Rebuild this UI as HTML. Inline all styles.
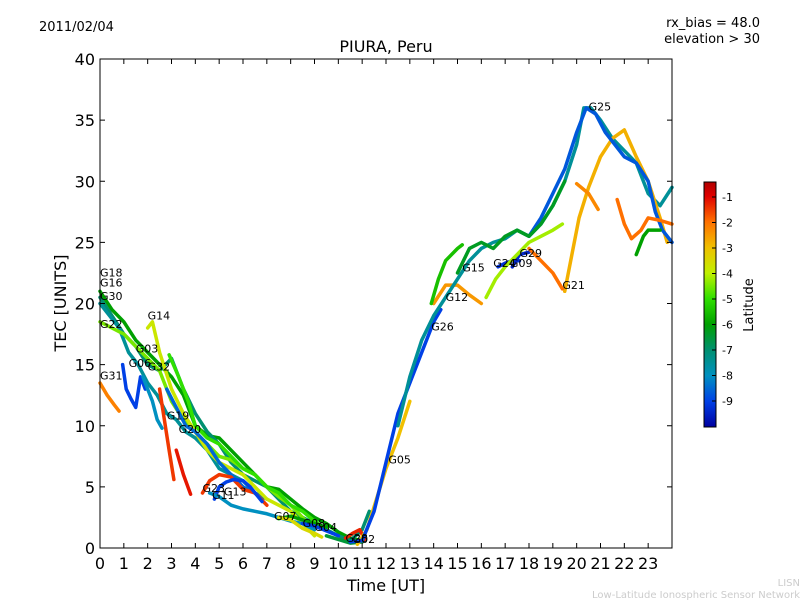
<!DOCTYPE html>
<html><head><meta charset="utf-8"><style>
body{margin:0;background:#fff;font-family:"Liberation Sans","DejaVu Sans",sans-serif}
svg text{font-family:"DejaVu Sans","Liberation Sans",sans-serif}
</style></head><body>
<svg id="chart" width="800" height="600" xmlns="http://www.w3.org/2000/svg">
<rect width="800" height="600" fill="#fff"/>
<text x="39" y="31" font-size="13">2011/02/04</text>
<text x="760" y="27" font-size="13" text-anchor="end">rx_bias = 48.0</text>
<text x="760" y="43" font-size="13" text-anchor="end">elevation &gt; 30</text>
<text x="386" y="52" font-size="16" text-anchor="middle">PIURA, Peru</text>
<text x="386" y="591" font-size="16" text-anchor="middle">Time [UT]</text>
<text x="66" y="303" font-size="16" text-anchor="middle" transform="rotate(-90 66 303)">TEC [UNITS]</text>
<g id="marks"></g>
<g id="axes"></g>
<defs><linearGradient id="jet" x1="0" y1="1" x2="0" y2="0"></linearGradient></defs>
<rect x="704" y="182" width="12" height="245" fill="url(#jet)" stroke="#000" stroke-width="1"/>
<g id="cbticks"></g>
<text x="753" y="305" font-size="13" text-anchor="middle" transform="rotate(-90 753 305)">Latitude</text>
<text x="800" y="586" font-size="10" fill="#ccc" text-anchor="end">LISN</text>
<text x="800" y="598" font-size="10" fill="#ccc" text-anchor="end">Low-Latitude Ionospheric Sensor Network</text>
</svg>
<script>
const xTicks=[0,1,2,3,4,5,6,7,8,9,10,11,12,13,14,15,16,17,18,19,20,21,22,23];
const yTicks=[0,5,10,15,20,25,30,35,40];
const cbTicks=[-1,-2,-3,-4,-5,-6,-7,-8,-9];
const trackNames=["G18","G16","G30","G22","G14","G31","G06","G03","G32","G32b","G19","G20","G23","G13","G11","G07","G08","G04","G28","G02","G05","G26","G12","G15","G24","G09","G29","G21","G25","G17","G10","G27","G01","G31b","G10b"];
const trackLat=[-6,-7,-7.5,-4.5,-3.8,-2.2,-9,-8,-1.5,-1.2,-8.5,-5,-1.5,-9,-8,-6,-3.5,-9,-1.3,-6.5,-3,-9,-2.5,-5.5,-9.2,-9.4,-7.5,-2.8,-8.7,-6.3,-2.3,-2,-4.2,-6,-2];
const trackT=[
[0,0.5,1,1.5,2,2.5,3,3.5,4,4.5,5,5.5,6,6.5,7,7.5,8,8.5,9,9.5,10,10.5,11],
[0,0.5,1,1.5,2,2.5,3,3.5,4,4.5,5,5.5,6,6.5,7,7.5,8,8.5,9,9.5,10,10.5,11,11.3],
[0,0.4,0.8,1.2,1.6,2,2.4,2.8,3.2,3.6,4,4.5,5,5.5,6,6.5,7],
[0,0.5,1,1.5,2,2.5,3,3.5,4,4.5,5,5.5,6,6.5,7,7.5,8,8.5,9],
[2,2.2,2.5,3,3.5,4,4.5,5,5.5,6,6.5,7,7.5,8,8.5,9],
[0,0.3,0.6,0.8],
[0.95,1.1,1.3,1.5,1.7,1.9],
[1.8,2,2.2,2.4,2.6],
[2.5,2.7,2.9,3.1],
[3.2,3.5,3.8],
[2.8,3.2,3.6,4,4.5,5,5.5,6,6.5,6.8],
[2.9,3.3,3.7,4,4.5,5,5.5,6,6.5,7,7.5,8,8.5,9,9.5],
[4.3,4.6,5,5.5,6,6.5,7],
[4.8,5,5.3,5.6,6,6.3,6.8],
[4.6,5,5.5,6,6.5,7,7.5,8,8.5,9],
[7.5,8,8.5,9,9.5],
[7.5,8,8.5,9,9.3],
[8.5,9,9.5,10],
[10.3,10.6,10.9,11.1],
[9.5,10,10.5,11],
[10.8,11.2,11.6,12,12.5,13],
[10.5,11,11.5,12,12.5,13,13.5,14,14.3],
[14,14.5,15,15.5,16],
[13.9,14.2,14.5,15,15.2],
[16.7,17,17.3,17.6],
[17.3,17.6,18],
[12.5,13,13.5,14,14.5,15,15.5,16,16.5,17,17.5,18,18.5,19,19.5,20,20.3,20.6,21,21.5,22,22.5,23,23.5,24],
[19.5,19.8,20.1,20.5,21,21.5,22,22.5,23,23.5,23.8],
[18,18.5,19,19.5,20,20.4,20.8,21.2,21.6,22,22.5,23,23.3,23.6,24],
[15,15.5,16,16.5,17,17.5,18,18.5,19,19.5],
[20,20.5,20.9],
[21.7,22,22.3,22.7,23,23.5,24],
[16.2,16.6,17,17.5,18,18.5,19,19.4],
[22.5,22.8,23,23.5],
[18,18.5,19,19.4]
];
const trackV=[
[21,19.5,18.5,17,16,15,14,12.5,10,9.2,9,8,7,6,5,4.8,4,3.2,2.5,2,1.3,0.8,0.6],
[20.5,19,17.5,16.5,15,14.5,15.5,13,11,9.5,8.5,7,6,5.5,5,4,3,2.5,2,1.5,1,0.6,1.5,3],
[20,19,18,16,15,13.5,12.5,11,10.5,9.5,9,8,6.5,6,5.5,4.5,4],
[18.5,18,17.5,16.5,15.5,14.5,12,10.5,9.5,8.5,7.5,7.2,6.5,6,5,4.2,3.5,2.5,1.5],
[18,18.5,16,13,11,9.5,8,7,6.5,6,5,4,3.5,3,2,1],
[13.5,12.5,11.7,11.2],
[15,13,12.2,11.5,14,13],
[14,13,12,10.5,9.8],
[13,10.5,8,5.6],
[8,6,4.4],
[13,11.5,10,9.5,8.5,7,6,5,4.5,4],
[15.8,14,12,10,9,8.5,7.5,6.5,6,5,4.5,3.5,3,2.2,1.5],
[4.5,5.5,6,5.8,4.8,4.5,3.5],
[4,5,5.4,5.6,5.5,5,3.8],
[4.5,4.2,3.5,3.2,3,2.8,2.5,2.2,2,1.5],
[2.4,2.6,2.3,2,1.7],
[2.5,2.3,1.6,1.2,0.9],
[2,1.8,1.4,1],
[0.8,1.2,1.5,0.7],
[1,0.7,0.4,0.5],
[0.3,1.5,4,6.5,9,12],
[0.5,0.6,3,7,11,13.5,16,18.5,19.5],
[20,21.5,21.5,20.7,20],
[20,22,23.5,24.5,24.8],
[23,23.3,23.5,23.5],
[23,24,24.2],
[10,14,17,19,20.5,22,23.5,24.5,25,25.3,26,25.5,26.5,28,30,33,36,36,35,33.5,32.5,31.5,29,28,29.5],
[21,24,27,29.5,32,33.5,34.2,32,30,27,25],
[25.5,27,29,31,34,36,35.5,34,33,32,31.5,30,27.5,26,25],
[22.5,24.5,25,24.5,25.5,26,25.5,26.5,28,30],
[29.8,29,27.7],
[28.5,26.5,25.3,26,27,26.8,26.5],
[20.5,22,23,24,25,25.5,26,26.5],
[24,25.5,26,26],
[24.5,23.5,22.5,21.2]
];
const trackLabels={"G18":[0,22.2],"G16":[0,21.4],"G30":[0,20.3],"G22":[0,18],"G14":[2,18.7],"G31":[0,13.8],"G06":[1.2,14.8],"G03":[1.5,16],"G32":[2,14.5],"G19":[2.8,10.5],"G20":[3.3,9.4],"G23":[4.3,4.6],"G13":[5.2,4.3],"G11":[4.7,4],"G07":[7.3,2.3],"G08":[8.5,1.7],"G04":[9,1.4],"G28":[10.3,0.5],"G02":[10.6,0.4],"G05":[12.1,6.9],"G26":[13.9,17.8],"G12":[14.5,20.2],"G15":[15.2,22.6],"G24":[16.5,23],"G09":[17.2,23],"G29":[17.6,23.8],"G21":[19.4,21.2],"G25":[20.5,35.8]};
const X0=100,X1=672,Y0=548,Y1=59;
const xs=t=>X0+t*(X1-X0)/24, ys=v=>Y0-v*(Y0-Y1)/40;
const cbY=l=>197+(l+1)*(401-197)/(-8);
const cmLat=[-10,-9,-8,-7,-6,-5,-4,-3,-2,-1,-0.45];
const cmCol=[[0,0,160],[0,64,230],[0,144,192],[0,144,112],[0,160,0],[48,224,0],[192,240,0],[240,192,0],[255,112,0],[224,0,0],[176,0,0]];
function jet(l){l=Math.max(-10,Math.min(-0.45,l));let i=0;while(i<cmLat.length-2&&l>cmLat[i+1])i++;
 const f=(l-cmLat[i])/(cmLat[i+1]-cmLat[i]);const c=cmCol[i].map((v,k)=>Math.round(v+(cmCol[i+1][k]-v)*f));
 return `rgb(${c[0]},${c[1]},${c[2]})`;}
const NS="http://www.w3.org/2000/svg";
const gr=document.getElementById('jet');
cmLat.forEach(l=>{const s=document.createElementNS(NS,'stop');s.setAttribute('offset',((l+10)/9.55).toFixed(3));s.setAttribute('stop-color',jet(l));gr.appendChild(s);});
const marks=document.getElementById('marks');
trackT.forEach((ts,i)=>{
 const p=document.createElementNS(NS,'polyline');
 p.setAttribute('points',ts.map((t,j)=>xs(t)+','+ys(trackV[i][j])).join(' '));
 p.setAttribute('fill','none');p.setAttribute('stroke',jet(trackLat[i]));p.setAttribute('stroke-width','3.5');p.setAttribute('stroke-linejoin','round');p.setAttribute('stroke-linecap','round');
 
 
 marks.appendChild(p);
});
Object.keys(trackLabels).forEach(k=>{
 const [t,v]=trackLabels[k];const tx=document.createElementNS(NS,'text');
 tx.setAttribute('x',xs(t));tx.setAttribute('y',ys(v));tx.setAttribute('font-size','11');tx.textContent=k;
 
 
 marks.appendChild(tx);
});
const axes=document.getElementById('axes');
let h=`<rect x="${X0}" y="${Y1}" width="${X1-X0}" height="${Y0-Y1}" fill="none" stroke="#000"/>`;
xTicks.forEach(t=>{const x=xs(t);h+=`<line x1="${x}" y1="${Y0}" x2="${x}" y2="${Y0-5}" stroke="#000"/><line x1="${x}" y1="${Y1}" x2="${x}" y2="${Y1+5}" stroke="#000"/><text x="${x}" y="569" font-size="16" text-anchor="middle">${t}</text>`;});
yTicks.forEach(v=>{const y=ys(v);h+=`<line x1="${X0}" y1="${y}" x2="${X0+5}" y2="${y}" stroke="#000"/><line x1="${X1}" y1="${y}" x2="${X1-5}" y2="${y}" stroke="#000"/><text x="95" y="${y+6}" font-size="16" text-anchor="end">${v}</text>`;});
axes.innerHTML=h;
let c='';cbTicks.forEach(l=>{const y=cbY(l);c+=`<line x1="712" y1="${y}" x2="716" y2="${y}" stroke="#000"/><text x="722" y="${y+4}" font-size="11">${l}</text>`;});
document.getElementById('cbticks').innerHTML=c;
</script>
</body></html>
